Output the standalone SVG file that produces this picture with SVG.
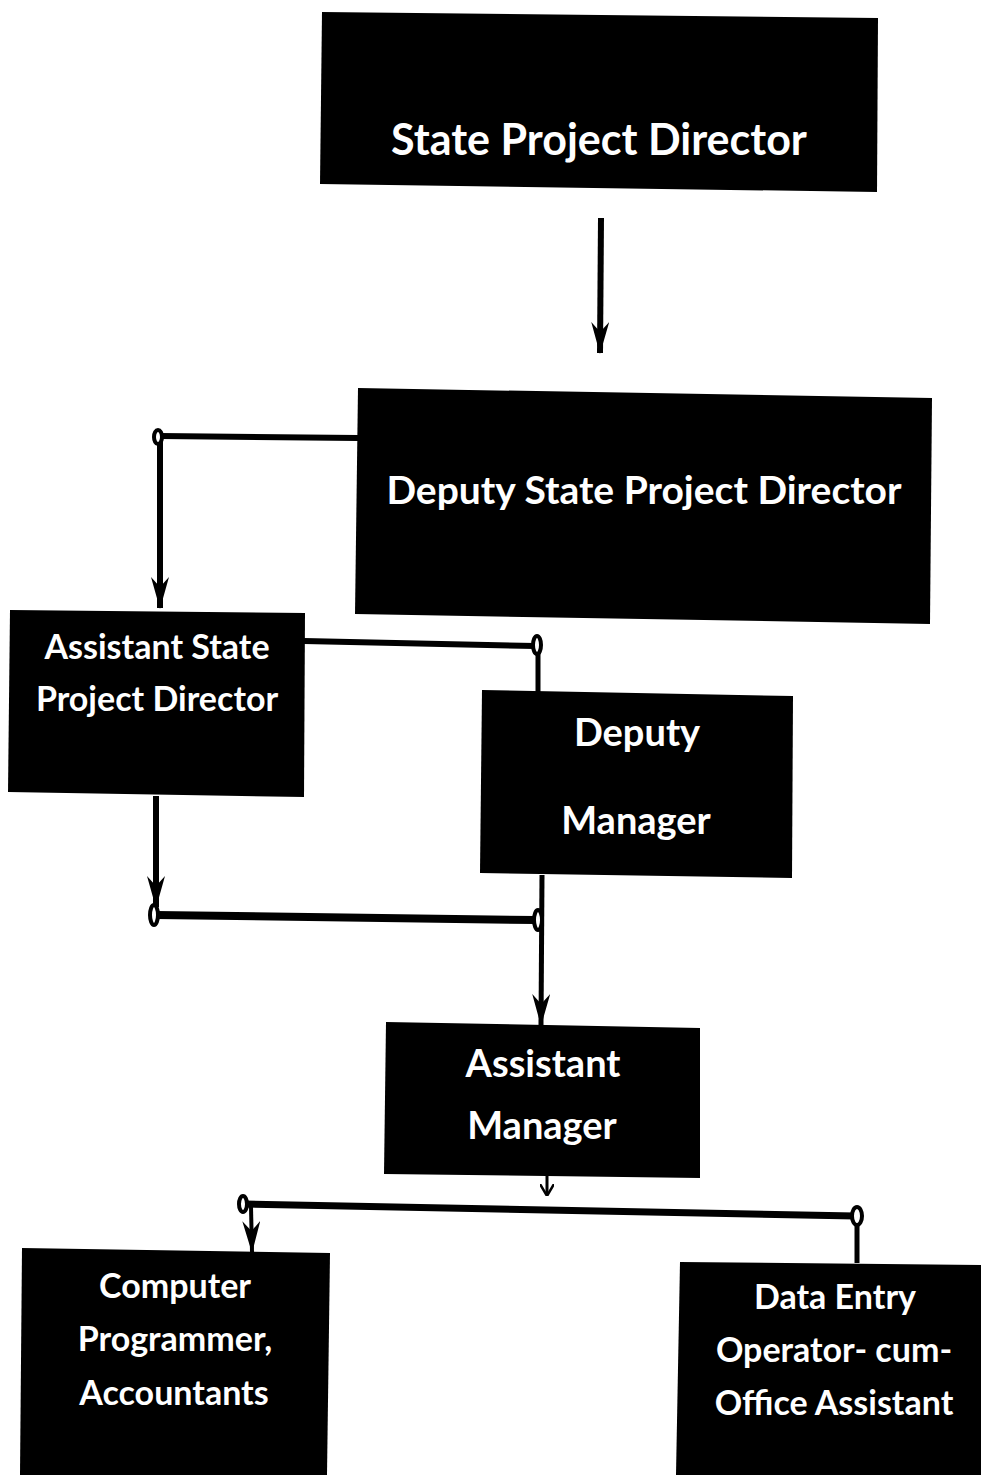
<svg xmlns="http://www.w3.org/2000/svg" width="981" height="1475" viewBox="0 0 981 1475">
<defs>
<marker id="arr" viewBox="0 0 32 18" refX="31" refY="9" markerWidth="32" markerHeight="18" markerUnits="userSpaceOnUse" orient="auto">
<path d="M32 9 L0 0 L10 9 L0 18 Z" fill="#000"/>
</marker>
<marker id="arrs" viewBox="0 0 12 14" refX="11" refY="7" markerWidth="12" markerHeight="14" markerUnits="userSpaceOnUse" orient="auto">
<path d="M12 7 L0 0 M12 7 L0 14" stroke="#000" stroke-width="2.5" fill="none"/>
</marker>
<style>
.box{fill:#000}
.t{fill:#fff;font-family:Lato,"Open Sans","Liberation Sans",sans-serif;font-weight:bold;text-anchor:middle}
.ln{stroke:#000;fill:none;stroke-linecap:butt}
.loop{fill:#fff;stroke:#000;stroke-width:4}
</style>
</defs>
<rect width="981" height="1475" fill="#fff"/>
<g id="connectors">
<line class="ln" x1="601" y1="218" x2="600" y2="353" stroke-width="6" marker-end="url(#arr)"/>
<line class="ln" x1="358" y1="438" x2="160" y2="436" stroke-width="6"/>
<line class="ln" x1="160" y1="440" x2="160" y2="608" stroke-width="6" marker-end="url(#arr)"/>
<line class="ln" x1="304" y1="641" x2="535" y2="646" stroke-width="6"/>
<line class="ln" x1="538" y1="650" x2="538" y2="692" stroke-width="5"/>
<line class="ln" x1="156" y1="796" x2="156" y2="907" stroke-width="6" marker-end="url(#arr)"/>
<line class="ln" x1="156" y1="915" x2="535" y2="920" stroke-width="8"/>
<line class="ln" x1="542" y1="875" x2="541" y2="1025" stroke-width="5" marker-end="url(#arr)"/>
<line class="ln" x1="547" y1="1176" x2="547" y2="1195" stroke-width="3" marker-end="url(#arrs)"/>
<line class="ln" x1="245" y1="1204" x2="855" y2="1216" stroke-width="7"/>
<line class="ln" x1="251" y1="1207" x2="252" y2="1252" stroke-width="4" marker-end="url(#arr)"/>
<line class="ln" x1="857" y1="1222" x2="857" y2="1263" stroke-width="5"/>
<ellipse class="loop" cx="158" cy="437" rx="4" ry="7"/>
<ellipse class="loop" cx="537" cy="645" rx="4" ry="9"/>
<ellipse class="loop" cx="154" cy="915" rx="4" ry="10"/>
<ellipse class="loop" cx="538" cy="920" rx="4" ry="10"/>
<ellipse class="loop" cx="243" cy="1204" rx="4" ry="8"/>
<ellipse class="loop" cx="857" cy="1216" rx="5" ry="9"/>
</g>
<g id="state-project-director">
<polygon class="box" points="322,12 878,18 877,192 320,184"/>
<text class="t" x="599" y="155" font-size="43">State Project Director</text>
</g>
<g id="deputy-state-project-director">
<polygon class="box" points="358,388 932,398 930,624 355,614"/>
<text class="t" x="644" y="504" font-size="39">Deputy State Project Director</text>
</g>
<g id="assistant-state-project-director">
<polygon class="box" points="10,610 305,613 304,797 8,792"/>
<text class="t" x="157" y="659" font-size="34">Assistant State</text>
<text class="t" x="157" y="711" font-size="34">Project Director</text>
</g>
<g id="deputy-manager">
<polygon class="box" points="482,690 793,696 792,878 480,873"/>
<text class="t" x="637" y="746" font-size="38">Deputy</text>
<text class="t" x="636" y="834" font-size="38">Manager</text>
</g>
<g id="assistant-manager">
<polygon class="box" points="386,1022 700,1028 700,1178 384,1174"/>
<text class="t" x="543" y="1077" font-size="38">Assistant</text>
<text class="t" x="542" y="1139" font-size="38">Manager</text>
</g>
<g id="computer-programmer">
<polygon class="box" points="22,1248 330,1253 327,1475 20,1475"/>
<text class="t" x="175" y="1298" font-size="34">Computer</text>
<text class="t" x="175" y="1351" font-size="34">Programmer,</text>
<text class="t" x="174" y="1405" font-size="34">Accountants</text>
</g>
<g id="data-entry-operator">
<polygon class="box" points="680,1262 981,1265 981,1475 676,1475"/>
<text class="t" x="835" y="1309" font-size="34">Data Entry</text>
<text class="t" x="834" y="1362" font-size="34">Operator- cum-</text>
<text class="t" x="834" y="1415" font-size="34">Office Assistant</text>
</g>
</svg>
